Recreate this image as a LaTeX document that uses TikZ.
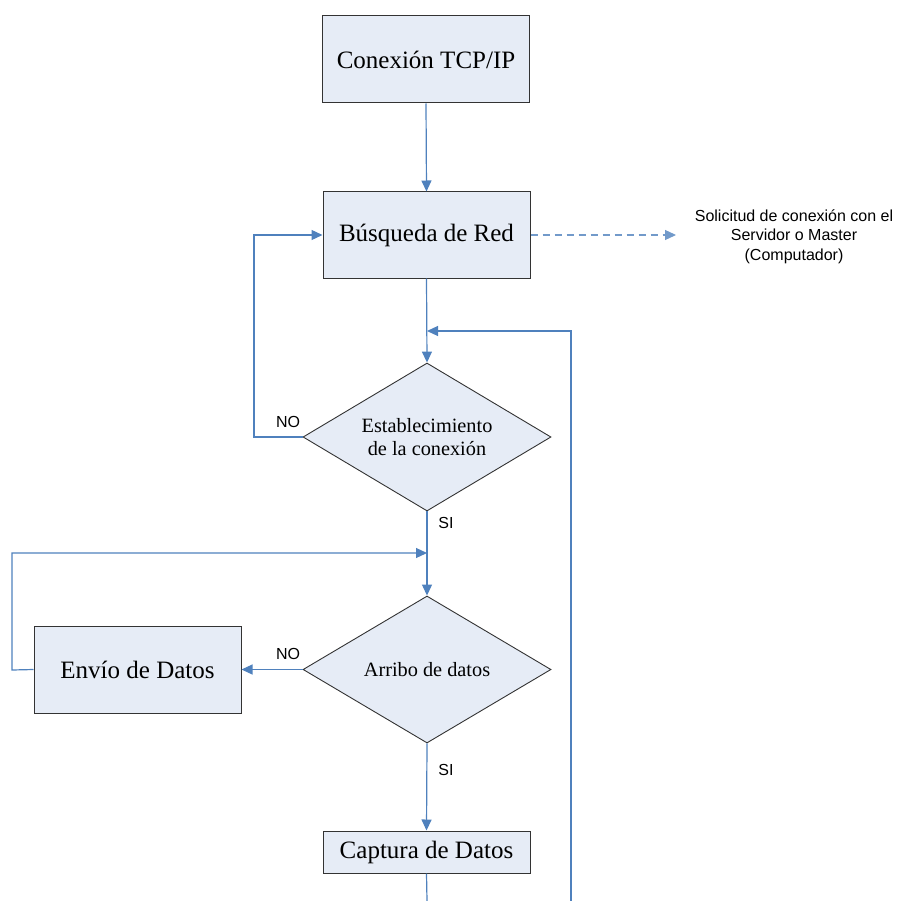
\documentclass[tikz,border=0pt]{standalone}
\usepackage{fontspec}
\setmainfont{Liberation Serif}
\newfontfamily\lblfont{Liberation Sans}
\usetikzlibrary{arrows.meta,shapes.geometric}
\definecolor{flowfill}{HTML}{E6ECF6}
\definecolor{flowline}{HTML}{4F81BD}
\definecolor{flowborder}{HTML}{333333}
\begin{document}
\begin{tikzpicture}[x=1pt,y=-1pt,
  procbox/.style={rectangle,draw=flowborder,fill=flowfill,line width=1pt,
    minimum width=207pt,inner sep=0pt,font=\fontsize{25}{29}\selectfont},
  decision/.style={diamond,draw=flowborder,fill=flowfill,line width=0.9pt,
    minimum width=248pt,minimum height=148pt,inner sep=0pt,aspect=1.68,
    align=center,font=\fontsize{20.3}{23}\selectfont},
  flow/.style={draw=flowline,line width=1.2pt},
  flowarrow/.style={flow,-{Triangle[length=11pt,width=10pt]}},
  lbl/.style={inner sep=0pt,font=\lblfont\fontsize{16}{19.5}\selectfont}
]
\useasboundingbox (0,0) rectangle (901,901);

% process boxes
\node[procbox,minimum height=87pt] (tcp) at (426,59.5) {Conexión TCP/IP};
\node[procbox,minimum height=86pt] (bus) at (426.5,235) {Búsqueda de Red};
\node[decision] (est) at (427,437) {Establecimiento\\de la conexión};
\node[decision,minimum height=147pt] (arr) at (427,669.5) {Arribo de datos};
\node[procbox,minimum height=87pt] (env) at (137.5,669.5) {Envío de Datos};
\node[procbox,minimum height=42pt] (cap) at (426.5,852) {Captura de Datos};

% side note
\node[lbl,align=center] (sol) at (794,236.5) {Solicitud de conexión con el\\Servidor o Master\\(Computador)};

% labels
\node[lbl] (no1) at (288,422) {NO};
\node[lbl] (si1) at (446,523) {SI};
\node[lbl] (no2) at (288,654) {NO};
\node[lbl] (si2) at (446,770) {SI};

% junction points
\coordinate (reqend) at (676,235);
\coordinate (j1) at (427,331);
\coordinate (rtop) at (571,331);
\coordinate (rbot) at (571,901);
\coordinate (nol) at (254,437);
\coordinate (j2) at (427,553);
\coordinate (lloop) at (12,670);
\coordinate (cend) at (427,901);

% connectors
\draw[flowarrow] (tcp.south) -- (bus.north);
\draw[flowarrow,dashed,dash pattern=on 7pt off 5pt,draw=flowline!80] (bus.east) -- (reqend);
\draw[flowarrow] (bus.south) -- (est.north);
\draw[flowarrow] (rbot) -- (rtop) -- (j1);
\draw[flowarrow] (est.west) -- (nol) |- (bus.west);
\draw[flowarrow] (est.south) -- (arr.north);
\draw[flowarrow] (env.west) -- (lloop) |- (j2);
\draw[flowarrow] (arr.west) -- (env.east);
\draw[flowarrow] (arr.south) -- (cap.north);
\draw[flow] (cap.south) -- (cend);
\end{tikzpicture}
\end{document}
